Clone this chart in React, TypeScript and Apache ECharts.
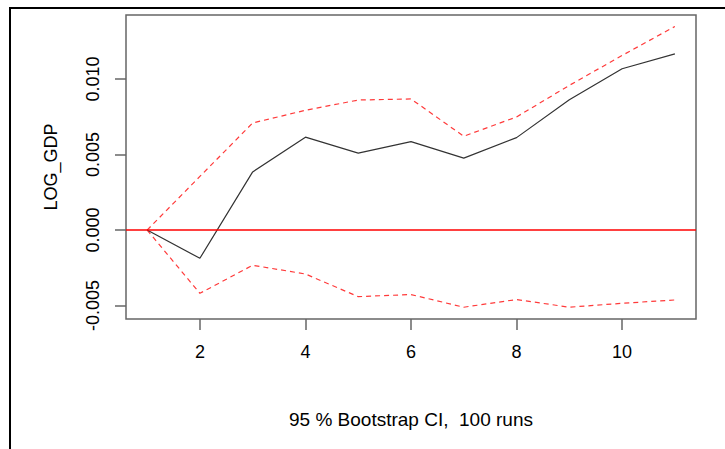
import React, { useEffect, useRef } from "react";
import * as echarts from "echarts";

const horizons = [1, 2, 3, 4, 5, 6, 7, 8, 9, 10, 11];
const irf = [0, -0.00187, 0.00385, 0.00615, 0.00509, 0.00586, 0.00476, 0.00612, 0.00863, 0.01068, 0.01167];
const upper = [0, 0.00355, 0.00709, 0.00793, 0.00861, 0.00868, 0.00621, 0.00749, 0.00958, 0.01156, 0.01348];
const lower = [0, -0.00419, -0.00233, -0.00291, -0.00441, -0.00427, -0.00511, -0.0046, -0.00511, -0.00485, -0.00463];
const xTicks = [2, 4, 6, 8, 10];
const yTicks = [-0.005, 0, 0.005, 0.01];
const yLabel = "LOG_GDP";
const xLabel = "95 % Bootstrap CI,  100 runs";

const pairs = (ys: number[]) => horizons.map((h, i) => [h, ys[i]]);

export default function App() {
  const ref = useRef<HTMLDivElement>(null);
  useEffect(() => {
    document.body.style.margin = "0";
    const chart = echarts.init(ref.current!, null, { renderer: "svg" });
    const font = "Liberation Sans, Arial, sans-serif";
    const axisGray = "#666";
    chart.setOption({
      animation: false,
      backgroundColor: "#fff",
      grid: {
        left: 126,
        right: 29,
        top: 15,
        bottom: 130,
        show: true,
        borderColor: axisGray,
        borderWidth: 1.5,
        backgroundColor: "transparent",
      },
      xAxis: {
        type: "value",
        min: 0.6,
        max: 11.4,
        name: xLabel,
        nameLocation: "middle",
        nameGap: 91,
        nameTextStyle: { fontFamily: font, fontSize: 19, color: "#000" },
        axisLine: { show: false, onZero: false },
        splitLine: { show: false },
        axisTick: { show: true, length: 11, lineStyle: { color: axisGray, width: 1.5 }, customValues: xTicks },
        axisLabel: { fontFamily: font, fontSize: 18, color: "#000", margin: 24, customValues: xTicks },
      },
      yAxis: {
        type: "value",
        min: -0.00589,
        max: 0.01424,
        name: yLabel,
        nameLocation: "middle",
        nameRotate: 90,
        nameGap: 66,
        nameTextStyle: { fontFamily: font, fontSize: 18, color: "#000" },
        axisLine: { show: false, onZero: false },
        splitLine: { show: false },
        axisTick: { show: true, length: 11, lineStyle: { color: axisGray, width: 1.5 }, customValues: yTicks },
        axisLabel: {
          fontFamily: font,
          fontSize: 18,
          color: "#000",
          rotate: 90,
          margin: 24,
          customValues: yTicks,
          formatter: (v: number) => v.toFixed(3),
        },
      },
      graphic: [
        { type: "line", shape: { x1: 10, y1: 8, x2: 725, y2: 8 }, style: { stroke: "#000", lineWidth: 2 } },
        { type: "line", shape: { x1: 10, y1: 7, x2: 10, y2: 449 }, style: { stroke: "#000", lineWidth: 2 } },
      ],
      series: [
        {
          type: "line",
          data: pairs(upper),
          symbol: "none",
          lineStyle: { color: "#ff3a3a", width: 1.2, type: [5, 4] },
          z: 2,
        },
        {
          type: "line",
          data: pairs(lower),
          symbol: "none",
          lineStyle: { color: "#ff3a3a", width: 1.2, type: [5, 4] },
          z: 2,
        },
        {
          type: "line",
          data: pairs(irf),
          symbol: "none",
          lineStyle: { color: "#333", width: 1.2 },
          z: 3,
          markLine: {
            silent: true,
            symbol: "none",
            label: { show: false },
            lineStyle: { color: "#ff0000", width: 1.5, type: "solid" },
            data: [{ yAxis: 0 }],
          },
        },
      ],
    });
    return () => chart.dispose();
  }, []);
  return <div ref={ref} style={{ width: 725, height: 449 }} />;
}
